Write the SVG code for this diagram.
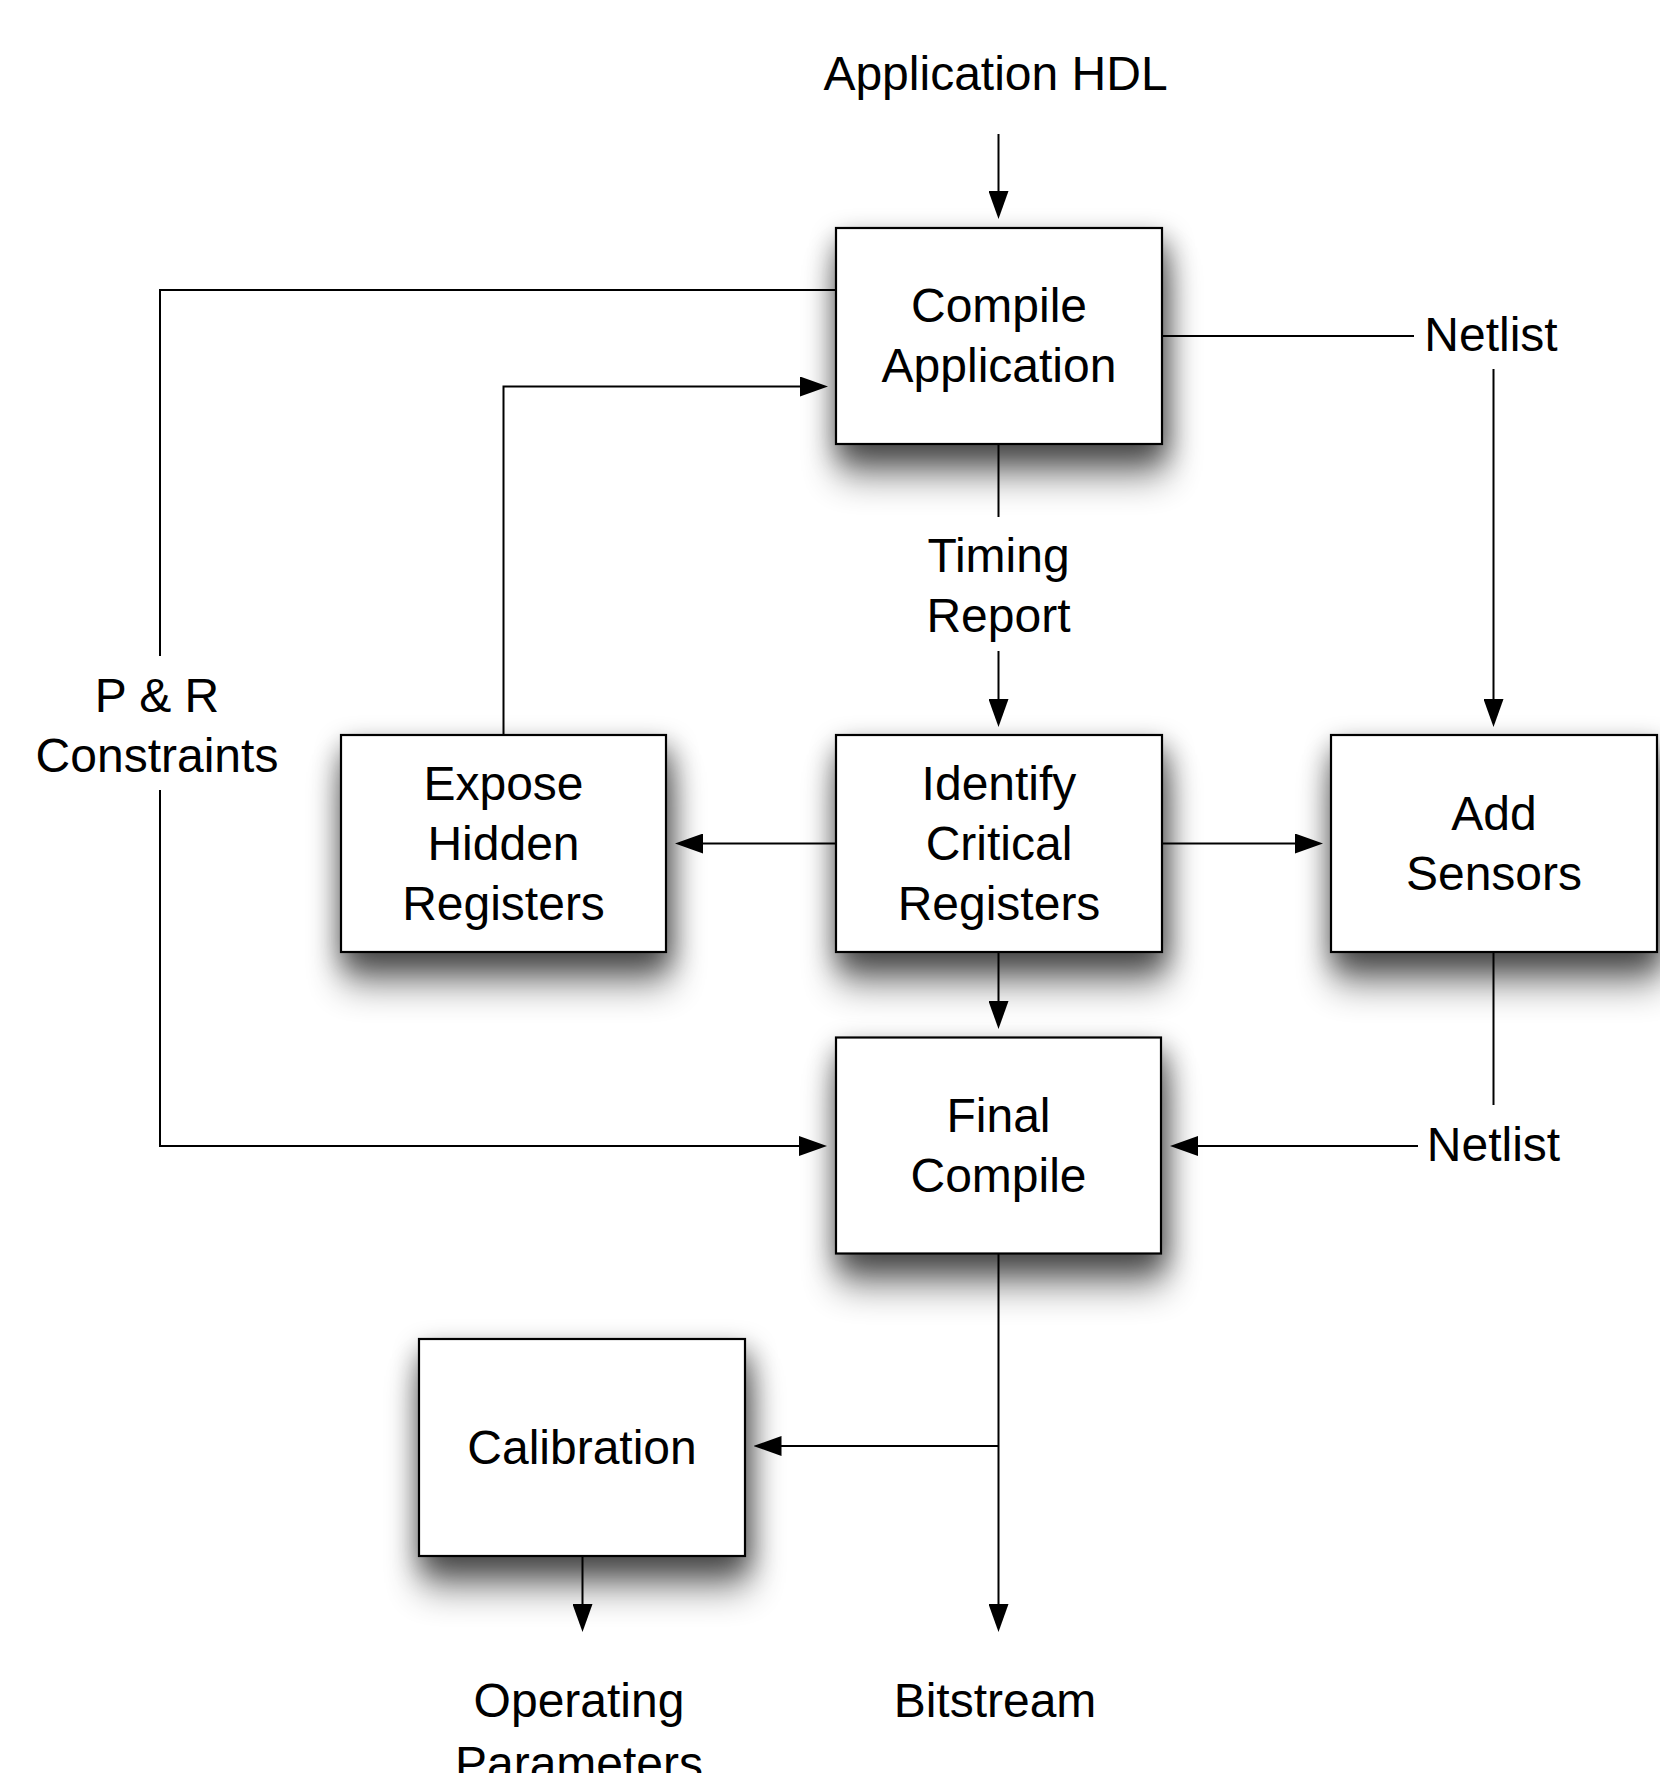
<svg xmlns="http://www.w3.org/2000/svg" width="1660" height="1773" viewBox="0 0 1660 1773">
<style>
  .box { fill: #ffffff; stroke: #000000; stroke-width: 2.2; }
  .lbl { font-family: "Liberation Sans", Arial, Helvetica, sans-serif; font-size: 48px; fill: #000000; text-anchor: middle; }
  .con { fill: none; stroke: #000000; stroke-width: 2; }
  .arr { fill: none; stroke: #000000; stroke-width: 2; marker-end: url(#ah); }
</style>
<defs>
  <marker id="ah" viewBox="0 0 28 20" markerWidth="28" markerHeight="20" refX="24" refY="10" orient="auto" markerUnits="userSpaceOnUse">
    <path d="M0,0 L28,10 L0,20 Z" fill="#000000"/>
  </marker>
  <filter id="sh" filterUnits="userSpaceOnUse" x="0" y="0" width="1660" height="1773">
    <feGaussianBlur in="SourceAlpha" stdDeviation="14" result="b1"/>
    <feOffset in="b1" dx="3" dy="12" result="o1"/>
    <feComponentTransfer in="o1" result="s1"><feFuncA type="linear" slope="0.55"/></feComponentTransfer>
    <feGaussianBlur in="SourceAlpha" stdDeviation="18" result="b2"/>
    <feOffset in="b2" dx="3" dy="32" result="o2"/>
    <feComponentTransfer in="o2" result="s2"><feFuncA type="linear" slope="0.45"/></feComponentTransfer>
    <feMerge><feMergeNode in="s2"/><feMergeNode in="s1"/><feMergeNode in="SourceGraphic"/></feMerge>
  </filter>
</defs>
<rect x="0" y="0" width="1660" height="1773" fill="#ffffff"/>

<g id="connectors">
  <path class="arr" d="M998.5,134 V215"/>
  <path class="con" d="M836,290 H160 V656"/>
  <path class="arr" d="M160,790 V1146 H823"/>
  <path class="arr" d="M503.5,735 V386.5 H824"/>
  <path class="con" d="M1162,336 H1414"/>
  <path class="arr" d="M1493.5,369 V723"/>
  <path class="con" d="M998.5,444 V517"/>
  <path class="arr" d="M998.5,651 V723"/>
  <path class="arr" d="M836,843.5 H679"/>
  <path class="arr" d="M1162,843.5 H1319"/>
  <path class="arr" d="M998.5,952 V1025"/>
  <path class="con" d="M1493.5,952 V1105"/>
  <path class="arr" d="M1418,1146 H1174"/>
  <path class="arr" d="M998.5,1253.5 V1628"/>
  <path class="arr" d="M998.5,1446 H757.5"/>
  <path class="arr" d="M582.5,1556 V1628"/>
</g>

<g id="label-hdl"><text class="lbl" x="995.5" y="90">Application HDL</text></g>
<g id="label-netlist1"><text class="lbl" x="1491" y="351">Netlist</text></g>
<g id="label-timing"><text class="lbl" x="998.5" y="572">Timing</text><text class="lbl" x="998.5" y="632">Report</text></g>
<g id="label-pr"><text class="lbl" x="157" y="712">P &amp; R</text><text class="lbl" x="157" y="772">Constraints</text></g>
<g id="label-netlist2"><text class="lbl" x="1493.5" y="1161">Netlist</text></g>
<g id="label-op"><text class="lbl" x="579" y="1717">Operating</text><text class="lbl" x="579" y="1780">Parameters</text></g>
<g id="label-bitstream"><text class="lbl" x="995" y="1717">Bitstream</text></g>

<g id="node-compile">
  <rect class="box" x="836" y="228" width="326" height="216" filter="url(#sh)"/>
  <text class="lbl" x="999" y="322">Compile</text>
  <text class="lbl" x="999" y="382">Application</text>
</g>
<g id="node-expose">
  <rect class="box" x="341" y="735" width="325" height="217" filter="url(#sh)"/>
  <text class="lbl" x="503.5" y="799.5">Expose</text>
  <text class="lbl" x="503.5" y="859.5">Hidden</text>
  <text class="lbl" x="503.5" y="919.5">Registers</text>
</g>
<g id="node-identify">
  <rect class="box" x="836" y="735" width="326" height="217" filter="url(#sh)"/>
  <text class="lbl" x="999" y="799.5">Identify</text>
  <text class="lbl" x="999" y="859.5">Critical</text>
  <text class="lbl" x="999" y="919.5">Registers</text>
</g>
<g id="node-sensors">
  <rect class="box" x="1331" y="735" width="326" height="217" filter="url(#sh)"/>
  <text class="lbl" x="1494" y="829.5">Add</text>
  <text class="lbl" x="1494" y="889.5">Sensors</text>
</g>
<g id="node-final">
  <rect class="box" x="836" y="1037.5" width="325" height="216" filter="url(#sh)"/>
  <text class="lbl" x="998.5" y="1131.5">Final</text>
  <text class="lbl" x="998.5" y="1191.5">Compile</text>
</g>
<g id="node-calibration">
  <rect class="box" x="419" y="1339" width="326" height="217" filter="url(#sh)"/>
  <text class="lbl" x="582" y="1463.5">Calibration</text>
</g>
</svg>
